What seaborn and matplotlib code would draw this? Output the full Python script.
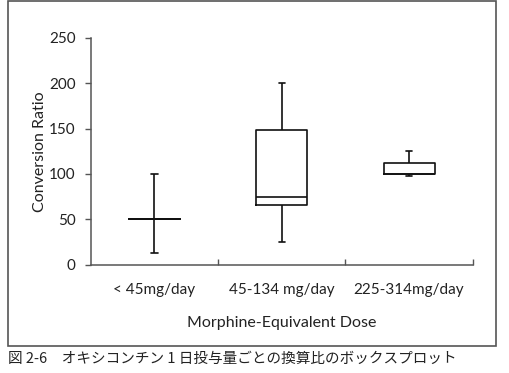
import numpy as np
import pandas as pd
import matplotlib
matplotlib.use('Agg')
import matplotlib.pyplot as plt
import seaborn as sns
from matplotlib.patches import Rectangle

# 箱ひげ図の値（最小, Q1, 中央値, Q3, 最大）を図から読み取り
DOSE_GROUPS = ['< 45mg/day', '45-134 mg/day', '225-314mg/day']
GROUP_LOW = [13, 50, 50, 50, 100]
GROUP_MID = [25, 66, 75, 148, 200]
GROUP_HIGH = [98, 100, 100, 112, 125]
Y_TICKS = [0, 50, 100, 150, 200, 250]

sns.set_theme(style='white')
plt.rcParams['font.family'] = ['Lato', 'DejaVu Sans']

df = pd.DataFrame({
    'dose': np.repeat(DOSE_GROUPS, 5),
    'ratio': GROUP_LOW + GROUP_MID + GROUP_HIGH,
})

fig = plt.figure(figsize=(5.1, 3.73), dpi=100)
ax = fig.add_axes([0.178, 0.29, 0.749, 0.609])

line_kw = dict(color='#111111', linewidth=1.2)
# whis=(0, 100): ひげは最小値から最大値まで
sns.boxplot(data=df, x='dose', y='ratio', order=DOSE_GROUPS, ax=ax,
            whis=(0, 100), width=0.4, fill=False, color='#111111',
            linewidth=1.2, showfliers=False,
            medianprops=line_kw, whiskerprops=line_kw,
            capprops=line_kw, boxprops=line_kw)

# ひげの端を短くする
for cap in ax.lines:
    xd = cap.get_xdata()
    yd = cap.get_ydata()
    if len(xd) == 2 and xd[0] != xd[1] and yd[0] == yd[1]:
        half = abs(xd[1] - xd[0]) / 2
        if half < 0.15:
            c = (xd[0] + xd[1]) / 2
            cap.set_xdata([c - 0.025, c + 0.025])

ax.set_xlim(-0.5, 2.5)
ax.set_ylim(0, 250)
ax.set_yticks(Y_TICKS)
ax.set_xticks([0, 1, 2])
ax.set_xticks([0.5, 1.5, 2.5], minor=True)
ax.set_xticklabels(DOSE_GROUPS)
ax.tick_params(axis='x', which='major', length=0, pad=13, labelsize=11, colors='#222222')
ax.tick_params(axis='x', which='minor', direction='in', length=4, width=1, color='#555555', bottom=True)
ax.tick_params(axis='y', direction='out', length=4, width=1, color='#555555', left=True,
               pad=7, labelsize=11, labelcolor='#222222')
ax.set_xlabel('Morphine-Equivalent Dose', fontsize=11.5, color='#222222', labelpad=14)
ax.set_ylabel('Conversion Ratio', fontsize=11.5, color='#222222', labelpad=1)

for side in ['top', 'right']:
    ax.spines[side].set_visible(False)
for side in ['left', 'bottom']:
    ax.spines[side].set_color('#555555')
    ax.spines[side].set_linewidth(1.1)

# 外枠
fig.patches.append(Rectangle((8 / 510, 27 / 373), 488 / 510, 345 / 373,
                             transform=fig.transFigure, fill=False,
                             edgecolor='#555555', linewidth=1.2))

fig.text(8 / 510, 14 / 373, '図 2-6　オキシコンチン 1 日投与量ごとの換算比のボックスプロット',
         family=['Noto Sans CJK JP', 'DejaVu Sans'], fontsize=10.5, va='center', ha='left',
         color='#222222')

fig.savefig('out.png', dpi=100)
